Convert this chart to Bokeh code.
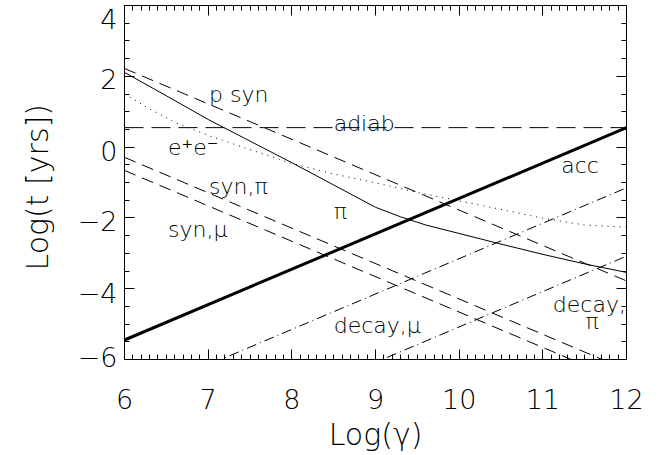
from bokeh.plotting import figure
from bokeh.models import Range1d, LinearAxis, FixedTicker, ColumnDataSource
from bokeh.core.properties import value
from bokeh.embed import file_html
from bokeh.resources import INLINE

# ---------------- data (log gamma vs log t [yrs]) ----------------
x_ends = [6.0, 12.0]
acc_t = [-5.45, 0.55]          # acceleration time
adiab_t = [0.55, 0.55]         # adiabatic losses
psyn_t = [2.22, -3.78]         # proton synchrotron
synpi_t = [-0.29, -6.29]       # pion synchrotron
synmu_t = [-0.66, -6.66]       # muon synchrotron
decaymu_t = [-7.15, -1.15]     # muon decay
decaypi_t = [-9.08, -3.08]     # pion decay

pi_x = [6.0, 6.5, 7.0, 7.5, 8.0, 8.5, 9.0, 9.3, 9.6, 10.0, 10.5, 11.0, 11.5, 12.0]
pi_t = [2.11, 1.45, 0.78, 0.17, -0.44, -1.07, -1.70, -1.97, -2.20, -2.44, -2.74, -3.03, -3.30, -3.54]

ee_x = [6.0, 6.3, 6.6, 7.0, 7.5, 8.0, 8.5, 9.0, 9.5, 10.0, 10.5, 11.0, 11.5, 11.8, 12.0]
ee_t = [1.50, 1.08, 0.70, 0.33, -0.07, -0.46, -0.76, -1.01, -1.28, -1.52, -1.76, -2.01, -2.20, -2.24, -2.26]

x_major = [6, 7, 8, 9, 10, 11, 12]
y_major = [-6, -4, -2, 0, 2, 4]
# y tick labels: texts, and where the original prints them (IDL nudges them)
y_label_text = ["\u22126", "\u22124", "\u22122", "0", "2", "4"]
y_label_at = [-5.92, -4.11, -2.10, -0.10, 1.91, 3.63]

curve_names = ["p syn", "adiab", "e\u207ae\u207b", "syn,\u03c0", "\u03c0", "syn,\u03bc",
               "acc", "decay,\u03bc", "decay,", "\u03c0"]
name_x = [7.01, 8.50, 6.52, 7.01, 8.50, 6.52, 11.22, 8.50, 11.12, 11.51]
name_y = [1.48, 0.66, 0.0, -1.12, -1.83, -2.34, -0.53, -5.05, -4.45, -4.93]

FONT = "DejaVu Sans Light, DejaVu Sans"
TICK_FS = "27px"
AXIS_FS = "30px"

p = figure(frame_width=502, frame_height=354,
           x_range=Range1d(6, 12), y_range=Range1d(-6, 4),
           output_backend="svg", toolbar_location=None,
           min_border_left=124, min_border_top=5, min_border_right=30,
           min_border_bottom=88, background_fill_color="white",
           border_fill_color="white")
p.grid.visible = False
p.outline_line_color = "black"
p.outline_line_width = 1

def style_axis(ax, ticks, minor, show_labels):
    ax.ticker = FixedTicker(ticks=ticks, minor_ticks=minor)
    ax.major_tick_in = 10
    ax.major_tick_out = 0
    ax.minor_tick_in = 5
    ax.minor_tick_out = 0
    ax.axis_line_color = "black"
    ax.axis_line_width = 1
    ax.major_tick_line_color = "black"
    ax.minor_tick_line_color = "black"
    ax.major_label_text_font = FONT
    ax.major_label_text_color = "black"
    if show_labels:
        ax.major_label_text_font_size = TICK_FS
    else:
        ax.major_label_overrides = {t: "" for t in ticks}
        ax.major_label_text_font_size = "1px"
        ax.major_label_standoff = 0

x_minor = [round(6 + i * 0.1, 2) for i in range(61)]
y_minor = [round(-6 + i * 0.5, 2) for i in range(21)]

xa = p.xaxis[0]
style_axis(xa, x_major, x_minor, True)
xa.major_label_standoff = 29
xa.axis_label = "Log(\u03b3)"
xa.axis_label_text_font = FONT
xa.axis_label_text_font_size = AXIS_FS
xa.axis_label_text_font_style = "normal"
xa.axis_label_text_color = "black"
xa.axis_label_standoff = 5

# left axis: tick marks only
ya = p.yaxis[0]
style_axis(ya, y_major, y_minor, False)

# left axis: tick labels (placed as in the original) and axis title
yl = LinearAxis()
yl.ticker = FixedTicker(ticks=y_label_at, minor_ticks=[])
yl.major_label_overrides = dict(zip(y_label_at, y_label_text))
yl.major_tick_in = 0
yl.major_tick_out = 0
yl.minor_tick_in = 0
yl.minor_tick_out = 0
yl.axis_line_color = None
yl.major_tick_line_color = None
yl.minor_tick_line_color = None
yl.major_label_text_font = FONT
yl.major_label_text_font_size = TICK_FS
yl.major_label_text_color = "black"
yl.major_label_standoff = 7
yl.axis_label = "Log(t  [yrs])"
yl.axis_label_text_font = FONT
yl.axis_label_text_font_size = AXIS_FS
yl.axis_label_text_font_style = "normal"
yl.axis_label_text_color = "black"
yl.axis_label_standoff = 20
p.add_layout(yl, "left")

top = LinearAxis()
style_axis(top, x_major, x_minor, False)
p.add_layout(top, "above")
right = LinearAxis()
style_axis(right, y_major, y_minor, False)
p.add_layout(right, "right")

# ---------------- curves ----------------
thin = dict(line_color="black", line_width=1)
p.line(x_ends, adiab_t, line_dash="19 8", **thin)
p.line(x_ends, psyn_t, line_dash="12 7", **thin)
p.line(x_ends, synpi_t, line_dash="12 7", **thin)
p.line(x_ends, synmu_t, line_dash="12 7", **thin)
p.line(x_ends, decaymu_t, line_dash="10 4 1 4", **thin)
p.line(x_ends, decaypi_t, line_dash="10 4 1 4", **thin)
p.line(ee_x, ee_t, line_dash="1 5", **thin)
p.line(pi_x, pi_t, **thin)
p.line(x_ends, acc_t, line_color="black", line_width=3)

src = ColumnDataSource(dict(x=name_x, y=name_y, t=curve_names))
p.text(x="x", y="y", text="t", source=src, text_font=value(FONT),
       text_font_size="22px", text_color="black",
       text_align="left", text_baseline="alphabetic")

open("out.html", "w").write(file_html(p, INLINE))
